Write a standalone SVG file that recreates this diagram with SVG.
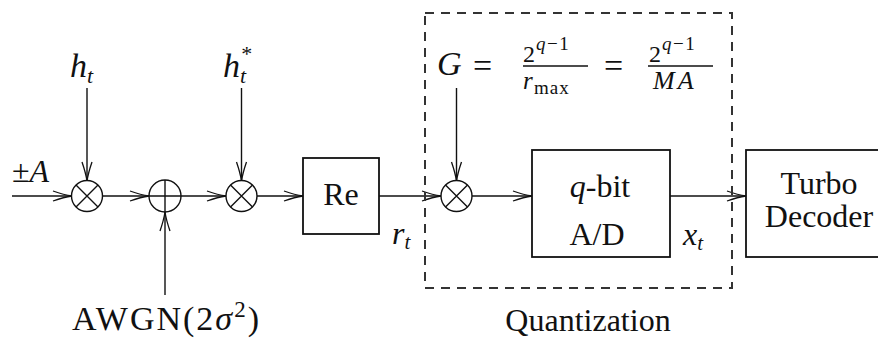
<svg xmlns="http://www.w3.org/2000/svg" width="878" height="343" viewBox="0 0 878 343" font-family="Liberation Serif, serif">
<style>
svg text, svg tspan { font-family: 'Liberation Serif', 'Times New Roman', serif !important; }
.m { font-style: italic; }
</style>
<defs>
<marker id="ah" viewBox="-22 -7 24 14" refX="0" refY="0" markerWidth="24" markerHeight="14" orient="auto" markerUnits="userSpaceOnUse">
<path d="M-19,-5 Q-8,-1.2 0,0 Q-8,1.2 -19,5" fill="none" stroke="#111" stroke-width="1.3"/>
</marker>
<g id="mulsym">
<circle cx="0" cy="0" r="15.5" fill="#fff" stroke="#111" stroke-width="1.4"/>
<path d="M-11,-11 L11,11 M11,-11 L-11,11" stroke="#111" stroke-width="1.4"/>
</g>
</defs>
<rect width="878" height="343" fill="#fff"/>

<g id="connectors" stroke="#111" stroke-width="1.4" fill="none" marker-end="url(#ah)">
<line x1="12" y1="196" x2="72" y2="196"/>
<line x1="87" y1="88" x2="87" y2="181"/>
<line x1="102" y1="196" x2="149" y2="196"/>
<line x1="165" y1="295" x2="165" y2="212"/>
<line x1="181" y1="196" x2="226" y2="196"/>
<line x1="241.5" y1="88" x2="241.5" y2="181"/>
<line x1="257" y1="196" x2="303" y2="196"/>
<line x1="379" y1="196" x2="441" y2="196"/>
<line x1="456.5" y1="88" x2="456.5" y2="181"/>
<line x1="472" y1="196" x2="532" y2="196"/>
<line x1="670" y1="196" x2="746" y2="196"/>
</g>

<g id="input" fill="#111">
<text x="12" y="182" font-size="32"><tspan font-family="Liberation Serif">±</tspan><tspan class="m" font-family="Liberation Serif">A</tspan></text>
</g>

<g id="ht" fill="#111">
<text x="70" y="77" font-size="34" class="m"><tspan font-family="Liberation Serif">h</tspan><tspan font-family="Liberation Serif" font-size="22" dy="6">t</tspan></text>
</g>

<g id="mult1">
<use href="#mulsym" x="87" y="196"/>
</g>

<g id="adder">
<circle cx="165" cy="196" r="16" fill="#fff" stroke="#111" stroke-width="1.4"/>
<path d="M149,196 L181,196 M165,180 L165,212" stroke="#111" stroke-width="1.4"/>
</g>

<g id="awgn" fill="#111">
<text x="72" y="330" font-size="34" letter-spacing="2"><tspan font-family="Liberation Serif">AWGN(2</tspan><tspan class="m" font-family="Liberation Serif">σ</tspan><tspan font-family="Liberation Serif" font-size="23" dy="-13">2</tspan><tspan font-family="Liberation Serif" dy="13">)</tspan></text>
</g>

<g id="htconj" fill="#111">
<text x="223" y="77" font-size="34" class="m"><tspan font-family="Liberation Serif">h</tspan><tspan font-family="Liberation Serif" font-size="22" dy="6">t</tspan><tspan font-family="Liberation Serif" font-size="22" dx="-5" dy="-22" font-style="normal">*</tspan></text>
</g>

<g id="mult2">
<use href="#mulsym" x="241.5" y="196"/>
</g>

<g id="re" fill="#111">
<rect x="303" y="158" width="76" height="76" fill="#fff" stroke="#111" stroke-width="1.8"/>
<text x="341" y="205" font-size="32" text-anchor="middle"><tspan font-family="Liberation Serif">Re</tspan></text>
</g>

<g id="rt" fill="#111">
<text x="392" y="244" font-size="32" class="m"><tspan font-family="Liberation Serif">r</tspan><tspan font-family="Liberation Serif" font-size="21" dy="5">t</tspan></text>
</g>

<g id="quantization" fill="#111">
<rect x="425" y="13" width="307" height="275" fill="none" stroke="#333" stroke-width="2" stroke-dasharray="9 7"/>
<text x="588" y="331" font-size="32" text-anchor="middle"><tspan font-family="Liberation Serif">Quantization</tspan></text>
</g>

<g id="gain" fill="#111">
<text x="437" y="75" font-size="34" class="m"><tspan font-family="Liberation Serif">G</tspan></text>
<text x="473" y="77" font-size="34"><tspan font-family="Liberation Serif">=</tspan></text>
<text x="523" y="62" font-size="24"><tspan font-family="Liberation Serif">2</tspan></text>
<text x="536" y="50" font-size="19" letter-spacing="1.5"><tspan class="m" font-family="Liberation Serif">q</tspan><tspan font-family="Liberation Serif">−1</tspan></text>
<line x1="523" y1="66" x2="588" y2="66" stroke="#111" stroke-width="1.4"/>
<text x="523" y="89" font-size="25" class="m"><tspan font-family="Liberation Serif">r</tspan></text>
<text x="534" y="94" font-size="19" letter-spacing="1"><tspan font-family="Liberation Serif">max</tspan></text>
<text x="604" y="77" font-size="34"><tspan font-family="Liberation Serif">=</tspan></text>
<text x="649" y="62" font-size="24"><tspan font-family="Liberation Serif">2</tspan></text>
<text x="662" y="50" font-size="19" letter-spacing="1.5"><tspan class="m" font-family="Liberation Serif">q</tspan><tspan font-family="Liberation Serif">−1</tspan></text>
<line x1="648" y1="66" x2="713" y2="66" stroke="#111" stroke-width="1.4"/>
<text x="653" y="89" font-size="26" class="m" letter-spacing="3"><tspan font-family="Liberation Serif">MA</tspan></text>
</g>

<g id="mult3">
<use href="#mulsym" x="456.5" y="196"/>
</g>

<g id="ad" fill="#111">
<rect x="532" y="150" width="138" height="107" fill="#fff" stroke="#111" stroke-width="1.8"/>
<text x="600" y="197" font-size="32" text-anchor="middle"><tspan class="m" font-family="Liberation Serif">q</tspan><tspan font-family="Liberation Serif">-bit</tspan></text>
<text x="597" y="245" font-size="32" text-anchor="middle"><tspan font-family="Liberation Serif">A/D</tspan></text>
</g>

<g id="xt" fill="#111">
<text x="683" y="245" font-size="32" class="m"><tspan font-family="Liberation Serif">x</tspan><tspan font-family="Liberation Serif" font-size="21" dy="5">t</tspan></text>
</g>

<g id="turbo" fill="#111">
<rect x="746" y="150" width="140" height="107" fill="#fff" stroke="#111" stroke-width="1.8"/>
<text x="819" y="194" font-size="32" text-anchor="middle"><tspan font-family="Liberation Serif">Turbo</tspan></text>
<text x="819" y="227" font-size="32" text-anchor="middle"><tspan font-family="Liberation Serif">Decoder</tspan></text>
</g>
</svg>
